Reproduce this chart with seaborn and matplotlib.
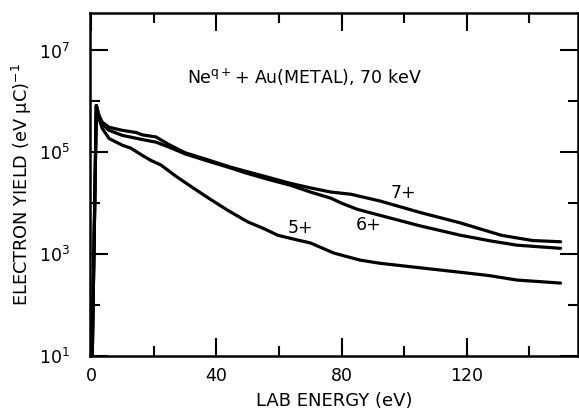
import matplotlib
matplotlib.use("Agg")
import matplotlib.pyplot as plt
import matplotlib.ticker as mticker
import pandas as pd
import seaborn as sns

# Data (lab energy in eV, yield in (eV uC)^-1)
energy_5 = [0.3, 1.6, 2.5, 3.5, 5.7, 9.9, 12.7, 16.3, 19.1, 22.3, 27, 32.8, 38,
            43.7, 50, 55, 59.6, 65, 70, 77.5, 86, 92.4, 105, 118, 127, 136, 150]
yield_5 = [10, 8.3e5, 4.5e5, 2.95e5, 1.86e5, 1.38e5, 1.2e5, 8.7e4, 6.9e4,
           5.6e4, 3.4e4, 1.95e4, 1.2e4, 7.2e3, 4.3e3, 3.2e3, 2.35e3, 1.95e3,
           1.66e3, 1.05e3, 760, 660, 540, 440, 380, 310, 270]

energy_6 = [0.3, 1.6, 2.5, 3.5, 5.7, 9.9, 16.3, 20.7, 24.9, 30, 37, 44.6, 49,
            56, 63.7, 70, 76.5, 80, 85, 92.4, 105, 118, 128, 136, 150]
yield_6 = [10, 8.3e5, 5.0e5, 3.55e5, 2.7e5, 2.15e5, 1.78e5, 1.58e5, 1.26e5,
           9.3e4, 6.8e4, 4.9e4, 4.0e4, 3.0e4, 2.25e4, 1.66e4, 1.26e4, 1.0e4,
           7.6e3, 5.75e3, 3.6e3, 2.35e3, 1.8e3, 1.5e3, 1.3e3]

energy_7 = [0.3, 1.6, 2.5, 3.5, 5.7, 9.9, 14.3, 16.3, 20.7, 24.9, 30, 37, 44.6,
            49, 56, 63.7, 70, 76.5, 83, 92.4, 105, 118, 131, 141, 150]
yield_7 = [10, 8.3e5, 5.2e5, 3.9e5, 3.1e5, 2.7e5, 2.45e5, 2.2e5, 2.0e5,
           1.41e5, 9.8e4, 7.2e4, 5.1e4, 4.3e4, 3.3e4, 2.45e4, 2.0e4, 1.66e4,
           1.5e4, 1.1e4, 6.6e3, 4.1e3, 2.35e3, 1.85e3, 1.75e3]

charges = ["5+", "6+", "7+"]
label_pos = {"5+": (67, 3.2e3), "6+": (88.6, 3.7e3), "7+": (99.8, 1.6e4)}

df = pd.concat([
    pd.DataFrame({"energy": energy_5, "yield": yield_5, "charge": "5+"}),
    pd.DataFrame({"energy": energy_6, "yield": yield_6, "charge": "6+"}),
    pd.DataFrame({"energy": energy_7, "yield": yield_7, "charge": "7+"}),
], ignore_index=True)

sns.set_style("ticks")
plt.rcParams["font.family"] = ["DejaVu Sans"]
plt.rcParams["mathtext.default"] = "regular"
plt.rcParams["text.color"] = "black"
plt.rcParams["axes.labelcolor"] = "black"

fig = plt.figure(figsize=(5.79, 4.12), dpi=100)
ax = fig.add_axes([0.155, 0.136, 0.843, 0.832])

sns.lineplot(data=df, x="energy", y="yield", hue="charge", units="charge",
             estimator=None, sort=False, palette=["black"] * 3,
             linewidth=2.3, legend=False, ax=ax)

ax.set_yscale("log")
ax.set_xlim(-0.5, 155.5)
ax.set_ylim(10, 5.4e7)

ax.set_xticks([0, 40, 80, 120])
ax.set_xticklabels(["0", "40", "80", "120"])
ax.xaxis.set_minor_locator(mticker.FixedLocator([20, 60, 100, 140]))
ax.set_yticks([10, 1e3, 1e5, 1e7])
ax.set_yticklabels([r"$10^{1}$", r"$10^{3}$", r"$10^{5}$", r"$10^{7}$"])
ax.yaxis.set_minor_locator(mticker.FixedLocator([1e2, 1e4, 1e6]))
ax.yaxis.set_minor_formatter(mticker.NullFormatter())

ax.tick_params(which="both", direction="in", top=True, right=True,
               labelsize=12.5, width=1.5, colors="black")
ax.tick_params(which="major", length=13)
ax.tick_params(axis="x", which="major", pad=8)
ax.tick_params(axis="y", which="major", pad=14)
ax.tick_params(which="minor", length=7)
for s in ax.spines.values():
    s.set_linewidth(1.8)
    s.set_color("black")

ax.set_xlabel("LAB ENERGY (eV)", fontsize=13, labelpad=5)
ax.set_ylabel(r"ELECTRON YIELD (eV $\mu$C)$^{-1}$", fontsize=12.8, labelpad=4)

ax.text(68, 3.0e6, r"Ne$^{q+}$+ Au(METAL), 70 keV", fontsize=12.5,
        ha="center", va="center")
for c in charges:
    x, y = label_pos[c]
    ax.text(x, y, c, fontsize=12.5, ha="center", va="center")

fig.savefig("out.png", dpi=100)
